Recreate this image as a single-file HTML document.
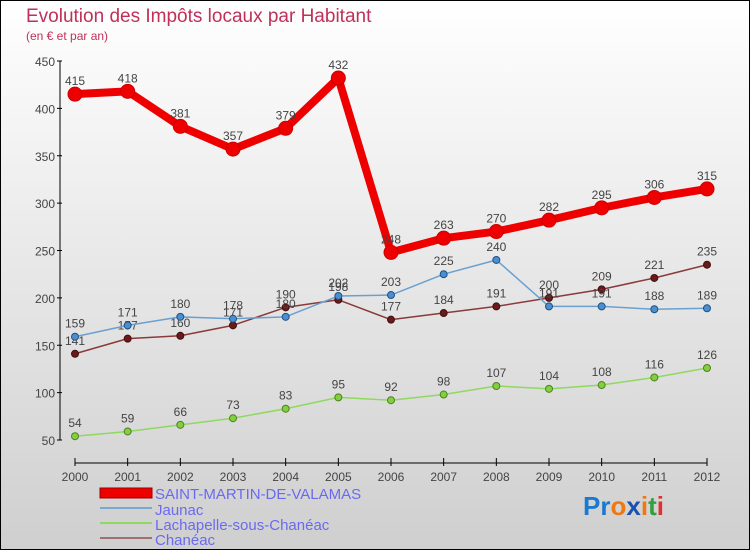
<!DOCTYPE html>
<html><head><meta charset="utf-8"><style>
html,body{margin:0;padding:0;width:750px;height:550px;overflow:hidden}
svg{display:block;font-family:"Liberation Sans",sans-serif}
</style></head><body>
<svg id="chart" width="750" height="550" viewBox="0 0 750 550">
<defs><linearGradient id="bg" x1="0" y1="0" x2="0" y2="1"><stop offset="0" stop-color="#ffffff"/><stop offset="1" stop-color="#cfcfcf"/></linearGradient></defs>
<rect x="0.5" y="0.5" width="749" height="549" fill="url(#bg)" stroke="#000"/>
<text x="26" y="22" font-size="19" fill="#c0305a">Evolution des Impôts locaux par Habitant</text>
<text x="26" y="40" font-size="12" fill="#c0305a">(en € et par an)</text>
<g id="axes"></g><g id="series"></g>
<g>
<rect x="100" y="488" width="52" height="10" fill="#e00" stroke="#900"/>
<text x="155" y="499" font-size="15" fill="#6a6af0">SAINT-MARTIN-DE-VALAMAS</text>
<line x1="100" y1="508" x2="152" y2="508" stroke="#7aa9d0" stroke-width="2"/>
<text x="155" y="515" font-size="15" fill="#6a6af0">Jaunac</text>
<line x1="100" y1="523" x2="152" y2="523" stroke="#90d860" stroke-width="2"/>
<text x="155" y="530" font-size="15" fill="#6a6af0">Lachapelle-sous-Chanéac</text>
<line x1="100" y1="538" x2="152" y2="538" stroke="#a07070" stroke-width="2"/>
<text x="155" y="545" font-size="15" fill="#6a6af0">Chanéac</text>
</g>
<text x="583" y="515" font-size="26" font-weight="bold"><tspan fill="#1a7ad0">Pr</tspan><tspan fill="#f07810">o</tspan><tspan fill="#1a50b0">x</tspan><tspan fill="#f07810">i</tspan><tspan fill="#30a040">t</tspan><tspan fill="#e03030">i</tspan></text>
</svg>
<script>
const years=[2000,2001,2002,2003,2004,2005,2006,2007,2008,2009,2010,2011,2012];
const yTicks=[50,100,150,200,250,300,350,400,450];
const saintMartin=[415,418,381,357,379,432,248,263,270,282,295,306,315];
const jaunac=[159,171,180,178,180,202,203,225,240,191,191,188,189];
const lachapelle=[54,59,66,73,83,95,92,98,107,104,108,116,126];
const chaneac=[141,157,160,171,190,198,177,184,191,200,209,221,235];
const NS="http://www.w3.org/2000/svg";
const X=i=>75+i*(707-75)/(years.length-1);
const Y=v=>440-(v-50)*(379/400);
function mk(t,a,p){const e=document.createElementNS(NS,t);for(const k in a)e.setAttribute(k,a[k]);p.appendChild(e);return e;}
const ax=document.getElementById('axes');
const ya=mk('line',{x1:60,y1:61,x2:60,y2:440,stroke:'#000'},ax);


yTicks.forEach(v=>{mk('line',{x1:57,y1:Y(v),x2:62,y2:Y(v),stroke:'#000'},ax);
const t=mk('text',{x:55,y:Y(v)+5,'font-size':12,fill:'#444','text-anchor':'end'},ax);t.textContent=v;

});
const xa=mk('line',{x1:75,y1:463,x2:707,y2:463,stroke:'#000'},ax);


years.forEach((y,i)=>{mk('line',{x1:X(i),y1:458,x2:X(i),y2:466,stroke:'#000'},ax);
const t=mk('text',{x:X(i),y:481,'font-size':12,fill:'#444','text-anchor':'middle'},ax);t.textContent=y;

});
const sg=document.getElementById('series');
function draw(name,data,color,w,r,dot,dotStroke){
const g=mk('g',{},sg);


const p=mk('polyline',{points:data.map((v,i)=>X(i)+','+Y(v)).join(' '),fill:'none',stroke:color,'stroke-width':w,'stroke-linejoin':'round'},g);


data.forEach((v,i)=>{const c=mk('circle',{cx:X(i),cy:Y(v),r:r,fill:dot,stroke:dotStroke,'stroke-width':1},g);


const t=mk('text',{x:X(i),y:Y(v)-9,'font-size':12,fill:'#444','text-anchor':'middle'},g);t.textContent=v;

});}
draw('lachapelle',lachapelle,'#90d860',1.5,3.5,'#80d040','#508020');
draw('chaneac',chaneac,'#8a3a3a',1.5,3.5,'#6a1a1a','#401010');
draw('jaunac',jaunac,'#6aa0d0',1.5,3.5,'#4a90d0','#205080');
draw('saint-martin',saintMartin,'#ee0000',8,7,'#ee0000','#cc0000');
</script>
</body></html>
